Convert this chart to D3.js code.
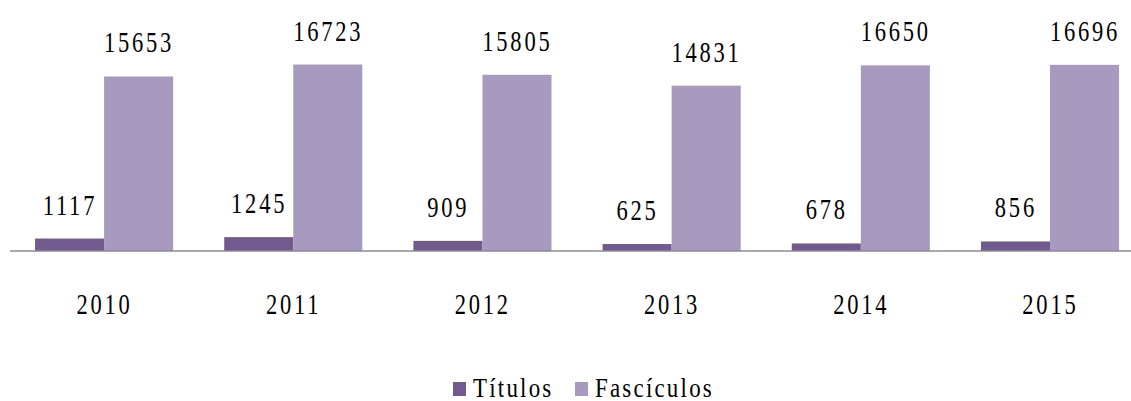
<!DOCTYPE html>
<html>
<head>
<meta charset="utf-8">
<script src="https://cdn.jsdelivr.net/npm/d3@7"></script>
<style>
  body { margin: 0; background: #fff; }
</style>
</head>
<body>
<script>
// data
var years = ["2010", "2011", "2012", "2013", "2014", "2015"];
var titulos = [1117, 1245, 909, 625, 678, 856];
var fasciculos = [15653, 16723, 15805, 14831, 16650, 16696];
var seriesNames = ["Títulos", "Fascículos"];
var colors = ["#725a8e", "#a899bf"];

var width = 1131, height = 401;
var baseline = 251;
var fontFam = "'Liberation Serif', 'Times New Roman', 'DejaVu Serif', serif";

// the original numbers are tall and narrow, so squeeze them sideways
var sx = 0.75, ls = 3.7;

var svg = d3.select("body").append("svg")
    .attr("width", width)
    .attr("height", height)
    .attr("font-family", fontFam);

// category scale, runs a bit past the right edge like the original crop
var x0 = d3.scaleBand()
    .domain(years)
    .range([9.5, 1144.6])
    .paddingInner(0.27)
    .paddingOuter(0.135);

var x1 = d3.scaleBand()
    .domain(seriesNames)
    .range([0, x0.bandwidth()]);

var yScale = d3.scaleLinear()
    .domain([0, 20000])
    .range([baseline, baseline - 20000 * 0.01115]);

var rows = years.map(function(y, i) {
    return {year: y, values: [titulos[i], fasciculos[i]]};
});

var groups = svg.selectAll("g.year")
    .data(rows)
    .enter().append("g")
    .attr("class", "year")
    .attr("transform", function(d) { return "translate(" + x0(d.year) + ",0)"; });

groups.selectAll("rect")
    .data(function(d) { return d.values.map(function(v, k) { return {name: seriesNames[k], value: v, k: k}; }); })
    .enter().append("rect")
    .attr("x", function(d) { return x1(d.name); })
    .attr("width", x1.bandwidth())
    .attr("y", function(d) { return yScale(d.value); })
    .attr("height", function(d) { return baseline - yScale(d.value); })
    .attr("fill", function(d) { return colors[d.k]; });

// value labels
groups.selectAll("text.val")
    .data(function(d) { return d.values.map(function(v, k) { return {name: seriesNames[k], value: v}; }); })
    .enter().append("text")
    .attr("class", "val")
    .attr("transform", function(d) {
        var cx = x1(d.name) + x1.bandwidth() / 2 + ls * sx / 2 - 1;
        return "translate(" + cx + "," + (yScale(d.value) - 24) + ") scale(" + sx + ",1)";
    })
    .attr("text-anchor", "middle")
    .attr("font-size", 30)
    .attr("letter-spacing", ls)
    .text(function(d) { return d.value; });

// baseline
svg.append("line")
    .attr("x1", 10)
    .attr("x2", width)
    .attr("y1", baseline)
    .attr("y2", baseline)
    .attr("stroke", "#8c8c8c")
    .attr("stroke-width", 1.5);

// category labels
svg.selectAll("text.cat")
    .data(years)
    .enter().append("text")
    .attr("class", "cat")
    .attr("transform", function(d) {
        var cx = x0(d) + x0.bandwidth() / 2 - 1 + ls * sx / 2;
        return "translate(" + cx + ",314) scale(" + sx + ",1)";
    })
    .attr("text-anchor", "middle")
    .attr("font-size", 30)
    .attr("letter-spacing", ls)
    .text(function(d) { return d; });

// legend
var legendX = [453, 575];
var legend = svg.selectAll("g.legend")
    .data(seriesNames)
    .enter().append("g")
    .attr("class", "legend")
    .attr("transform", function(d, i) { return "translate(" + legendX[i] + ",382)"; });

legend.append("rect")
    .attr("width", 13)
    .attr("height", 14)
    .attr("fill", function(d, i) { return colors[i]; });

legend.append("text")
    .attr("transform", "translate(20,15) scale(0.85,1)")
    .attr("font-size", 27)
    .attr("letter-spacing", 2.6)
    .text(function(d) { return d; });
</script>
</body>
</html>
